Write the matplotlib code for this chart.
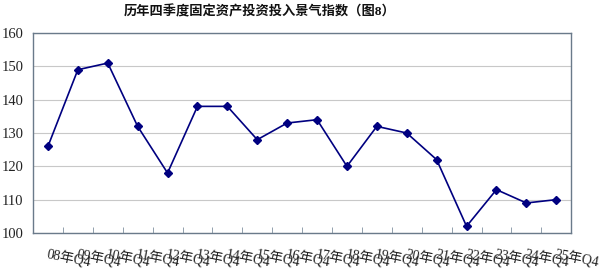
import numpy as np
import matplotlib
matplotlib.use("Agg")
import matplotlib.pyplot as plt
import matplotlib.transforms as mtransforms

##WWww=--  data: --=wwWW##
years  = ["08", "09", "10", "11", "12", "13", "14", "15", "16",
          "17", "18", "19", "20", "21", "22", "23", "24", "25"]
labels = [y + "年Q4" for y in years]
values = [126, 149, 151, 132, 118, 138, 138, 128, 133,
          134, 120, 132, 130, 122, 102, 113, 109, 110]

plt.rcParams['font.family'] = ['Liberation Serif', 'Noto Sans CJK SC', 'DejaVu Sans']

fig = plt.figure(figsize=(6.0, 2.69), dpi=100)
ax = fig.add_axes([0.055, 0.134, 0.897, 0.743])

x = np.arange(len(values))
ax.plot(x, values, color='#000080', lw=1.2, marker='D', ms=4.5,
        mfc='#000080', mec='#000080', zorder=3)

ax.set_xlim(-0.5, len(values) - 0.5)
ax.set_ylim(100, 160)
ax.set_yticks(np.arange(100, 161, 10))
ax.yaxis.grid(True, color='#c8c8c8', lw=0.8)
ax.set_axisbelow(True)

# category boundaries as ticks
ax.set_xticks(np.arange(0.5, len(values) - 1, 1.0))
ax.set_xticklabels([])
ax.tick_params(axis='x', direction='in', length=4, color='#8090a0', width=0.6)
ax.tick_params(axis='y', length=0, pad=7, labelsize=10.5, labelcolor='#222222')

for s in ax.spines.values():
    s.set_color('#6a7a8a')
    s.set_linewidth(1.0)

# category labels (slanted, overlapping as in the original)
trans = mtransforms.blended_transform_factory(ax.transData, ax.transAxes)
for i, lab in enumerate(labels):
    ax.text(i, -0.075, lab, transform=trans, rotation=-11,
            rotation_mode='anchor', ha='left', va='top',
            fontsize=10, color='#222222')

fig.text(0.432, 0.955, "历年四季度固定资产投资投入景气指数（图8）",
         ha='center', va='center', fontsize=9.5, fontweight='bold',
         color='#111111')

fig.savefig("out.png", dpi=100)
